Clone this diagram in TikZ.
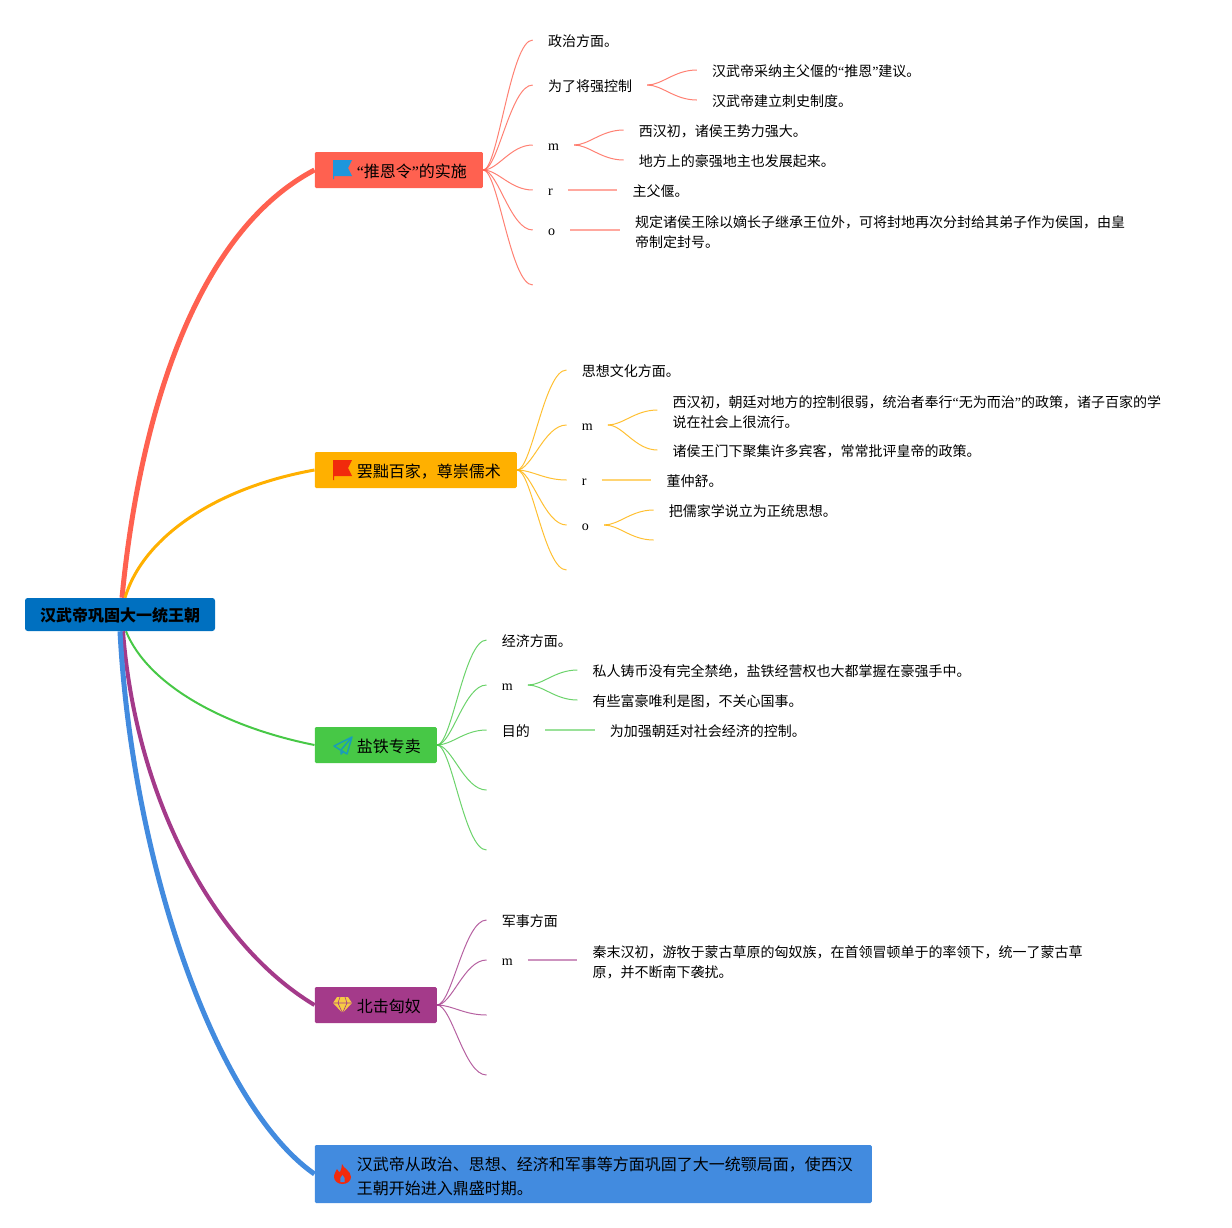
\documentclass[tikz,border=0pt]{standalone}
\usepackage{fontspec}
\setmainfont{Liberation Serif}
\newfontfamily\cjk{Noto Sans CJK SC}
\usetikzlibrary{calc, positioning}
\definecolor{rootblue}{HTML}{0070C0}
\definecolor{redtone}{HTML}{FF6150}
\definecolor{ambertone}{HTML}{FFB000}
\definecolor{greentone}{HTML}{47C846}
\definecolor{purpletone}{HTML}{A43A8A}
\definecolor{bluetone}{HTML}{428BDF}
\definecolor{iconblue}{HTML}{1E96DC}
\definecolor{iconred}{HTML}{F12A0C}
\definecolor{iconteal}{HTML}{1A9DB8}
\definecolor{icongold}{HTML}{F6CB45}
\newcommand{\px}{0.75pt}
\newcommand{\iconpad}{\hspace*{19.5pt}}
\newcommand{\quoted}[1]{{\rmfamily “}#1{\rmfamily ”}}
\newcommand{\twig}[3]{\draw[twigline, #1] (#2) .. controls ($(#2)!0.3!(#3 |- #2)$) and ($(#3)!0.45!(#3 -| #2)$) .. (#3);}

\begin{document}
\begin{tikzpicture}[
  x=0.75pt, y=-0.75pt,
  rootbox/.style={
    rectangle,
    rounded corners=2pt,
    fill=rootblue,
    align=center,
    minimum width=190*\px,
    minimum height=33*\px,
    inner sep=0pt,
    execute at begin node={\rule[-1.4pt]{0pt}{13.4pt}},
    font=\cjk\bfseries\fontsize{12}{18}\selectfont
  },
  topic/.style={
    rectangle,
    rounded corners=1pt,
    align=left,
    anchor=west,
    inner xsep=12pt,
    inner ysep=0pt,
    minimum height=36*\px,
    execute at begin node={\rule[-1.4pt]{0pt}{13.4pt}},
    font=\cjk\fontsize{12}{18}\selectfont
  },
  leaf/.style={
    rectangle,
    align=left,
    inner xsep=15*\px,
    inner ysep=0pt,
    execute at begin node={\rule[-1.2pt]{0pt}{12.6pt}},
    font=\cjk\fontsize{10.5}{15}\selectfont
  },
  latin/.style={
    rectangle,
    align=left,
    inner xsep=15*\px,
    inner ysep=0pt,
    execute at begin node={\rule[-1.2pt]{0pt}{11.2pt}},
    font=\rmfamily\fontsize{10.5}{15}\selectfont
  },
  twolines/.style={execute at begin node={\rule{0pt}{#1}}},
  twigline/.style={line width=1*\px, opacity=0.8},
  paleline/.style={line width=1.5*\px, opacity=0.55},
  node distance=49.5*\px
]
\useasboundingbox (0,0) rectangle (1232,1228);

\node[rootbox] (root) at (120,614.5) {汉武帝巩固大一统王朝};

\node[topic, fill=redtone] (edict) at (314.5,170) {\iconpad\quoted{推恩令}的实施};
\node[topic, fill=ambertone] (confu) at (314.5,470) {\iconpad 罢黜百家，尊崇儒术};
\node[topic, fill=greentone] (salt) at (314.5,745) {\iconpad 盐铁专卖};
\node[topic, fill=purpletone] (hun) at (314.5,1005) {\iconpad 北击匈奴};
\node[topic, twolines=31.5pt, fill=bluetone, minimum height=58*\px] (sum) at (314.5,1174) {\iconpad 汉武帝从政治、思想、经济和军事等方面巩固了大一统颚局面，使西汉\hspace*{2.25pt}\\\iconpad 王朝开始进入鼎盛时期。};

\draw[redtone, line width=5*\px] ($(root.north)+(2,0)$) .. controls +(16,-167) and +(-125,66) .. (edict.west);
\draw[ambertone, line width=3*\px] ($(root.north)+(5,0)$) .. controls +(18,-60) and +(-100,18) .. (confu.west);
\draw[greentone, line width=2*\px] ($(root.south)+(6,0)$) .. controls +(22,54) and +(-90,-18) .. (salt.west);
\draw[purpletone, line width=4*\px] ($(root.south)+(3,0)$) .. controls +(13,169) and +(-100,-60) .. (hun.west);
\draw[bluetone, line width=5*\px] (root.south) .. controls +(12,229) and +(-100,-70) .. (sum.west);

% edict branch
\node[leaf, right=of edict, yshift=130*\px] (e1) {政治方面。};
\node[leaf, right=of edict, yshift=85*\px] (e2) {为了将强控制};
\node[latin, right=of edict, yshift=25*\px] (e3) {m};
\node[latin, right=of edict, yshift=-20*\px] (e4) {r};
\node[latin, right=of edict, yshift=-60*\px] (e5) {o};
\coordinate[right=of edict, yshift=-115*\px] (e6);
\node[leaf, right=of e2, yshift=15*\px] (e2a) {汉武帝采纳主父偃的\quoted{推恩}建议。};
\node[leaf, right=of e2, yshift=-15*\px] (e2b) {汉武帝建立刺史制度。};
\node[leaf, right=of e3, yshift=15*\px] (e3a) {西汉初，诸侯王势力强大。};
\node[leaf, right=of e3, yshift=-15*\px] (e3b) {地方上的豪强地主也发展起来。};
\node[leaf, right=of e4] (e4a) {主父偃。};
\node[leaf, twolines=27.2pt, right=of e5] (e5a) {规定诸侯王除以嫡长子继承王位外，可将封地再次分封给其弟子作为侯国，由皇\\帝制定封号。};

\twig{redtone}{edict.east}{e1.west}
\twig{redtone}{edict.east}{e2.west}
\twig{redtone}{edict.east}{e3.west}
\twig{redtone}{edict.east}{e4.west}
\twig{redtone}{edict.east}{e5.west}
\twig{redtone}{edict.east}{e6}
\twig{redtone}{e2.east}{e2a.west}
\twig{redtone}{e2.east}{e2b.west}
\twig{redtone}{e3.east}{e3a.west}
\twig{redtone}{e3.east}{e3b.west}
\draw[paleline, redtone] (e4) -- (e4a);
\draw[paleline, redtone] (e5) -- (e5a);

% confu branch
\node[leaf, right=of confu, yshift=100*\px] (c1) {思想文化方面。};
\node[latin, right=of confu, yshift=45*\px] (c2) {m};
\node[latin, right=of confu, yshift=-10*\px] (c3) {r};
\node[latin, right=of confu, yshift=-55*\px] (c4) {o};
\coordinate[right=of confu, yshift=-100*\px] (c5);
\node[leaf, twolines=27.2pt, right=of c2, yshift=15*\px] (c2a) {西汉初，朝廷对地方的控制很弱，统治者奉行\quoted{无为而治}的政策，诸子百家的学\\说在社会上很流行。};
\node[leaf, right=of c2, yshift=-25*\px] (c2b) {诸侯王门下聚集许多宾客，常常批评皇帝的政策。};
\node[leaf, right=of c3] (c3a) {董仲舒。};
\node[leaf, right=of c4, yshift=15*\px] (c4a) {把儒家学说立为正统思想。};
\coordinate[right=of c4, yshift=-15*\px] (c4b);

\twig{ambertone}{confu.east}{c1.west}
\twig{ambertone}{confu.east}{c2.west}
\twig{ambertone}{confu.east}{c3.west}
\twig{ambertone}{confu.east}{c4.west}
\twig{ambertone}{confu.east}{c5}
\twig{ambertone}{c2.east}{c2a.west}
\twig{ambertone}{c2.east}{c2b.west}
\draw[paleline, ambertone] (c3) -- (c3a);
\twig{ambertone}{c4.east}{c4a.west}
\twig{ambertone}{c4.east}{c4b}

% salt branch
\node[leaf, right=of salt, yshift=105*\px] (s1) {经济方面。};
\node[latin, right=of salt, yshift=60*\px] (s2) {m};
\node[leaf, right=of salt, yshift=15*\px] (s3) {目的};
\coordinate[right=of salt, yshift=-45*\px] (s4);
\coordinate[right=of salt, yshift=-105*\px] (s5);
\node[leaf, right=of s2, yshift=15*\px] (s2a) {私人铸币没有完全禁绝，盐铁经营权也大都掌握在豪强手中。};
\node[leaf, right=of s2, yshift=-15*\px] (s2b) {有些富豪唯利是图，不关心国事。};
\node[leaf, right=of s3] (s3a) {为加强朝廷对社会经济的控制。};

\twig{greentone}{salt.east}{s1.west}
\twig{greentone}{salt.east}{s2.west}
\twig{greentone}{salt.east}{s3.west}
\twig{greentone}{salt.east}{s4}
\twig{greentone}{salt.east}{s5}
\twig{greentone}{s2.east}{s2a.west}
\twig{greentone}{s2.east}{s2b.west}
\draw[paleline, greentone] (s3) -- (s3a);

% hun branch
\node[leaf, right=of hun, yshift=85*\px] (h1) {军事方面};
\node[latin, right=of hun, yshift=45*\px] (h2) {m};
\coordinate[right=of hun, yshift=-10*\px] (h3);
\coordinate[right=of hun, yshift=-70*\px] (h4);
\node[leaf, twolines=27.2pt, right=of h2] (h2a) {秦末汉初，游牧于蒙古草原的匈奴族，在首领冒顿单于的率领下，统一了蒙古草\\原，并不断南下袭扰。};

\twig{purpletone}{hun.east}{h1.west}
\twig{purpletone}{hun.east}{h2.west}
\twig{purpletone}{hun.east}{h3}
\twig{purpletone}{hun.east}{h4}
\draw[paleline, purpletone] (h2) -- (h2a);

% icons
\fill[iconblue] (333,160) -- (352,160) -- (348,168) -- (352,176) -- (334,176) -- (334,179) -- (333,179) -- cycle;
\fill[iconred] (333,460) -- (352,460) -- (348,468) -- (352,476) -- (334,476) -- (334,480) -- (333,480) -- cycle;
\draw[iconteal, line width=1.5*\px, line join=round] (334,746) -- (352,737) -- (347,754) -- cycle (352,737) -- (341,750) -- (341,754) -- (344,751);
\fill[icongold] (337,997) -- (348,997) -- (352,1003) -- (342.5,1013) -- (333,1003) -- cycle;
\draw[purpletone, line width=0.6*\px] (333,1003) -- (352,1003) (338,1003) -- (342.5,1013) -- (347,1003) (338,1003) -- (340,997) (347,1003) -- (345,997);
\fill[iconred] (342,1164) .. controls (343,1168) and (351,1171) .. (351,1177) .. controls (351,1181) and (347,1184) .. (342.5,1184) .. controls (338,1184) and (334,1181) .. (334,1177) .. controls (334,1173) and (336,1172) .. (337,1169) .. controls (338,1171) and (339,1172) .. (340,1172) .. controls (341,1170) and (342,1167) .. (342,1164) -- cycle;
\fill[bluetone] (342.5,1175) .. controls (344,1177) and (346,1179) .. (344.5,1182) -- (340.5,1182) .. controls (339,1179) and (341,1177) .. (342.5,1175) -- cycle;

\end{tikzpicture}
\end{document}
